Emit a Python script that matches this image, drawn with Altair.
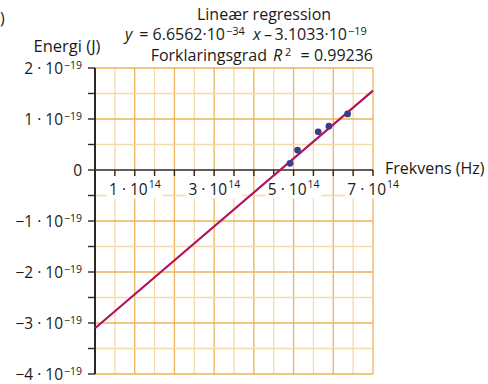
import altair as alt
import pandas as pd

# Measured photon frequency (Hz) and electron energy (J)
frequency = [4.91e14, 5.10e14, 5.62e14, 5.89e14, 6.36e14]
energy = [0.13e-19, 0.39e-19, 0.75e-19, 0.86e-19, 1.10e-19]

# Fitted line, as given in the heading
slope = 6.6562e-34
intercept = -3.1033e-19
r_squared = "0.99236"

x_domain = [0.0, 7e14]
y_domain = [-4e-19, 2e-19]

# Grid / tick positions
x_major = [1e14, 2e14, 3e14, 4e14, 5e14, 6e14, 7e14]
x_minor = [0.5e14, 1.5e14, 2.5e14, 3.5e14, 4.5e14, 5.5e14, 6.5e14]
y_major = [2e-19, 1e-19, -1e-19, -2e-19, -3e-19, -4e-19]
y_minor = [1.5e-19, 0.5e-19, -0.5e-19, -1.5e-19, -2.5e-19, -3.5e-19]

# Tick labels (mantissa and exponent drawn separately)
x_label_vals = [1e14, 3e14, 5e14, 7e14]
x_label_base = ["1 · 10", "3 · 10", "5 · 10", "7 · 10"]
x_label_exp = ["14", "14", "14", "14"]
y_label_vals = [2e-19, 1e-19, -1e-19, -2e-19, -3e-19, -4e-19]
y_label_base = ["2 · 10", "1 · 10", "−1 · 10", "−2 · 10", "−3 · 10", "−4 · 10"]
y_label_exp = ["−19", "−19", "−19", "−19", "−19", "−19"]

W, H = 278, 306
FONT = "Open Sans"
INK = "#1c1a19"
AXIS = "#2e2824"
GRID_DARK = "#ecb35c"
GRID_LIGHT = "#f5d9a9"
LINE = "#b3125c"
DOT = "#3b3c8c"

xs = alt.Scale(domain=x_domain, nice=False, zero=False)
ys = alt.Scale(domain=y_domain, nice=False, zero=False)


def X(field):
    return alt.X(field, type="quantitative", scale=xs, axis=None)


def Y(field):
    return alt.Y(field, type="quantitative", scale=ys, axis=None)


def note(text, x, y, size=16, align="left", italic=False):
    return alt.Chart(pd.DataFrame({"t": [text]})).mark_text(
        text=text, font=FONT, fontSize=size, align=align, baseline="alphabetic",
        fontStyle="italic" if italic else "normal", color=INK,
    ).encode(x=alt.value(x), y=alt.value(y))


grid = []
for vals, col in [(x_minor, GRID_LIGHT), (x_major, GRID_DARK)]:
    grid.append(alt.Chart(pd.DataFrame({"v": vals})).mark_rule(color=col, strokeWidth=1.3).encode(x=X("v")))
for vals, col in [(y_minor, GRID_LIGHT), (y_major, GRID_DARK)]:
    grid.append(alt.Chart(pd.DataFrame({"v": vals})).mark_rule(color=col, strokeWidth=1.3).encode(y=Y("v")))

xlab = pd.DataFrame({"v": x_label_vals, "base": x_label_base, "exp": x_label_exp, "zero": 0.0})
ylab = pd.DataFrame({"v": y_label_vals, "base": y_label_base, "exp": y_label_exp})

label_boxes = alt.Chart(xlab).mark_rect(color="white", width=56, height=23, yOffset=17).encode(
    x=X("v"), y=Y("zero")
)

# axis lines
axes_df = pd.DataFrame({"x0": [0.0], "x1": [7e14], "y0": [-4e-19], "y1": [2e-19], "zero": [0.0]})
y_axis = alt.Chart(axes_df).mark_rule(color=AXIS, strokeWidth=2).encode(x=X("zero"), y=Y("y0"), y2="y1")
x_axis = alt.Chart(axes_df).mark_rule(color=AXIS, strokeWidth=1.6).encode(x=X("x0"), x2="x1", y=Y("zero"))

x_ticks_df = pd.DataFrame({"v": sorted(x_minor + x_major), "zero": 0.0})
x_ticks = alt.Chart(x_ticks_df).mark_rule(color=AXIS, strokeWidth=1.4, y2Offset=6).encode(
    x=X("v"), y=Y("zero"), y2="zero"
)
y_ticks_df = pd.DataFrame({"v": sorted(y_minor + y_major + [0.0])})
y_ticks = alt.Chart(y_ticks_df).mark_rule(color=AXIS, strokeWidth=1.4).encode(
    y=Y("v"), x=alt.value(-7), x2=alt.value(0)
)

x_base = alt.Chart(xlab).mark_text(font=FONT, fontSize=15.5, align="right", baseline="alphabetic", dx=13, dy=25, color=INK).encode(
    x=X("v"), y=Y("zero"), text="base:N"
)
x_exp = alt.Chart(xlab).mark_text(font=FONT, fontSize=10.5, align="left", baseline="alphabetic", dx=14, dy=18, color=INK).encode(
    x=X("v"), y=Y("zero"), text="exp:N"
)
y_base = alt.Chart(ylab).mark_text(font=FONT, fontSize=15.5, align="right", baseline="alphabetic", dy=6, color=INK).encode(
    x=alt.value(-32), y=Y("v"), text="base:N"
)
y_exp = alt.Chart(ylab).mark_text(font=FONT, fontSize=10.5, align="left", baseline="alphabetic", dy=1, color=INK).encode(
    x=alt.value(-31), y=Y("v"), text="exp:N"
)
y_zero = alt.Chart(pd.DataFrame({"v": [0.0], "t": ["0"]})).mark_text(
    font=FONT, fontSize=15.5, align="right", baseline="middle", dy=1, color=INK
).encode(x=alt.value(-13), y=Y("v"), text="t:N")

fit_df = pd.DataFrame({"f": x_domain, "e": [slope * f + intercept for f in x_domain]})
fit = alt.Chart(fit_df).mark_line(color=LINE, strokeWidth=2.2).encode(x=X("f"), y=Y("e"))

pts = alt.Chart(pd.DataFrame({"f": frequency, "e": energy})).mark_point(
    filled=True, size=45, color=DOT, opacity=1
).encode(x=X("f"), y=Y("e"))

texts = [
    note(")", -95, -44),
    note("Lineær regression", 169, -48, align="center"),
    note("y", 30, -28, italic=True),
    note("= 6.6562·10", 130, -28, align="right"),
    note("−34", 131, -33, size=11),
    note("x", 158, -28, italic=True),
    note("–", 169, -28),
    note("3.1033·10", 252, -28, align="right"),
    note("−19", 253, -33, size=11),
    note("Forklaringsgrad", 172, -7, align="right"),
    note("R", 178, -7, italic=True),
    note("2", 190, -12, size=11),
    note("= " + r_squared, 278, -7, align="right"),
    note("Energi (J)", -28, -16, size=16.5, align="center"),
    note("Frekvens (Hz)", 290, 106),
]

chart = alt.layer(
    *grid, label_boxes, y_axis, x_axis, x_ticks, y_ticks,
    x_base, x_exp, y_base, y_exp, y_zero, fit, pts, *texts
).properties(
    width=W, height=H,
    autosize=alt.AutoSizeParams(type="none"),
    padding={"left": 95, "top": 68, "right": 115, "bottom": 10},
).configure_view(stroke=None)

chart.save("out.html", embed_options={"renderer": "svg", "actions": False})
